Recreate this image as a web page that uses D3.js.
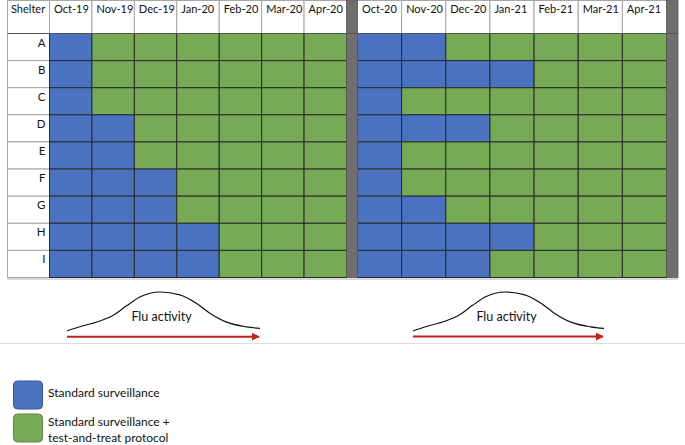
<!DOCTYPE html>
<html>
<head>
<meta charset="utf-8">
<script src="https://cdn.jsdelivr.net/npm/d3@7"></script>
<style>
  html, body { margin: 0; padding: 0; background: #fff; }
  svg { display: block; font-family: Lato, "Open Sans", sans-serif; }
</style>
</head>
<body>
<svg id="chart" width="685" height="445"></svg>
<script>
// ---------- data ----------
const shelters = ["A", "B", "C", "D", "E", "F", "G", "H", "I"];
const months1 = ["Oct-19", "Nov-19", "Dec-19", "Jan-20", "Feb-20", "Mar-20", "Apr-20"];
const months2 = ["Oct-20", "Nov-20", "Dec-20", "Jan-21", "Feb-21", "Mar-21", "Apr-21"];
// number of initial months each shelter was under standard surveillance only
const standardMonths1 = [1, 1, 1, 2, 2, 3, 3, 4, 4];
const standardMonths2 = [2, 4, 1, 3, 1, 1, 2, 4, 3];
const statusNames = ["Standard surveillance", "Standard surveillance + test-and-treat protocol"];
const legendLines = [["Standard surveillance"], ["Standard surveillance +", "test-and-treat protocol"]];
const headerLabel = "Shelter";
const fluLabel = "Flu activity";
// flu activity curve profile (relative time 0..1, relative level 0..1)
const fluTime  = [0, 0.066, 0.17, 0.24, 0.31, 0.38, 0.48, 0.585, 0.67, 0.74, 0.83, 0.93, 1];
const fluLevel = [0.025, 0.13, 0.275, 0.42, 0.66, 0.88, 1, 0.93, 0.72, 0.47, 0.24, 0.13, 0.09];

// ---------- layout ----------
const svg = d3.select("#chart");
const colors = ["#4a72c1", "#77aa54"];
const gridDark = "#2b2b2b";
const gridLight = "#a6a6a6";
const gapFill = "#726e6e";

const tableLeft = 7.5, labelRight = 49.5;
const headTop = 0.5, headBottom = 33.5, tableBottom = 277.5;

const y = d3.scaleBand().domain(shelters).range([headBottom, tableBottom]);
const x1 = d3.scaleBand().domain(months1).range([labelRight, 346.5]);
const gap1 = [346.5, 357.5];
const x2 = d3.scaleBand().domain(months2).range([357.5, 666.5]);
const gap2 = [666.5, 678];

const blocks = [
  { x: x1, months: months1, std: standardMonths1 },
  { x: x2, months: months2, std: standardMonths2 }
];

// bottom shadow
svg.append("line").attr("x1", tableLeft).attr("x2", gap2[1])
  .attr("y1", tableBottom + 1.5).attr("y2", tableBottom + 1.5)
  .attr("stroke", "#d9d9d9").attr("stroke-width", 2);

// header shelter cell
const g = svg.append("g");
g.append("rect").attr("x", tableLeft).attr("y", headTop)
  .attr("width", labelRight - tableLeft).attr("height", headBottom - headTop)
  .attr("fill", "#fff").attr("stroke", gridLight);
g.append("text").attr("x", tableLeft + 3.5).attr("y", headTop + 12)
  .attr("font-size", 11).attr("fill", "#111").text(headerLabel);

// row labels
g.selectAll("rect.lab").data(shelters).join("rect").attr("class", "lab")
  .attr("x", tableLeft).attr("y", d => y(d))
  .attr("width", labelRight - tableLeft).attr("height", y.bandwidth())
  .attr("fill", "#fff").attr("stroke", gridLight);
g.selectAll("text.lab").data(shelters).join("text").attr("class", "lab")
  .attr("x", labelRight - 4).attr("y", d => y(d) + 13)
  .attr("text-anchor", "end").attr("font-size", 11.5).attr("fill", "#111").text(d => d);

blocks.forEach((b, bi) => {
  const bg = svg.append("g");
  // header cells
  bg.selectAll("rect.head").data(b.months).join("rect").attr("class", "head")
    .attr("x", d => b.x(d)).attr("y", headTop)
    .attr("width", b.x.bandwidth()).attr("height", headBottom - headTop)
    .attr("fill", "#fff").attr("stroke", gridLight);
  bg.selectAll("text.head").data(b.months).join("text").attr("class", "head")
    .attr("x", d => b.x(d) + 4.5).attr("y", headTop + 12)
    .attr("font-size", 11).attr("fill", "#111").text(d => d);
  // cells
  const cells = [];
  shelters.forEach((s, i) => {
    b.months.forEach((m, j) => {
      cells.push({ s, m, status: j < b.std[i] ? 0 : 1 });
    });
  });
  bg.selectAll("rect.cell").data(cells).join("rect").attr("class", "cell")
    .attr("x", d => b.x(d.m)).attr("y", d => y(d.s))
    .attr("width", b.x.bandwidth()).attr("height", y.bandwidth())
    .attr("fill", d => colors[d.status]).attr("stroke", gridDark).attr("stroke-width", 1);
});

// gap columns
[gap1, gap2].forEach(gp => {
  svg.append("rect").attr("x", gp[0]).attr("y", headTop)
    .attr("width", gp[1] - gp[0]).attr("height", tableBottom - headTop)
    .attr("fill", gapFill).attr("stroke", "#5a5757").attr("stroke-width", 0.8);
});
// header bottom line
svg.append("line").attr("x1", tableLeft).attr("x2", gap2[1])
  .attr("y1", headBottom).attr("y2", headBottom).attr("stroke", "#555");

// ---------- flu activity ----------
const spans = [
  { x0: 67, x1: 260, base: 332, peak: 292, arrowY: 336.7, arrowEnd: 259 },
  { x0: 413, x1: 604, base: 332, peak: 292, arrowY: 336.5, arrowEnd: 603 }
];
const defs = svg.append("defs");
defs.append("marker").attr("id", "arrow").attr("viewBox", "0 0 10 10")
  .attr("refX", 9).attr("refY", 5).attr("markerWidth", 4).attr("markerHeight", 4)
  .attr("orient", "auto")
  .append("path").attr("d", "M0,0 L10,5 L0,10 z").attr("fill", "#c0221c");

spans.forEach(sp => {
  const fx = d3.scaleLinear().domain([0, 1]).range([sp.x0, sp.x1]);
  const fy = d3.scaleLinear().domain([0, 1]).range([sp.base, sp.peak]);
  const line = d3.line().x((d, i) => fx(fluTime[i])).y(d => fy(d)).curve(d3.curveMonotoneX);
  svg.append("path").attr("d", line(fluLevel)).attr("fill", "none")
    .attr("stroke", "#111").attr("stroke-width", 1.2);
  svg.append("line").attr("x1", sp.x0).attr("x2", sp.arrowEnd)
    .attr("y1", sp.arrowY).attr("y2", sp.arrowY)
    .attr("stroke", "#c0221c").attr("stroke-width", 2).attr("marker-end", "url(#arrow)");
  svg.append("text").attr("x", fx(0.49)).attr("y", 320.5)
    .attr("text-anchor", "middle").attr("font-size", 12.5).attr("fill", "#111").text(fluLabel);
});

// separator
svg.append("line").attr("x1", 0).attr("x2", 685).attr("y1", 343.5).attr("y2", 343.5)
  .attr("stroke", "#dcdcdc").attr("stroke-width", 1);

// ---------- legend ----------
const legendY = d3.scaleBand().domain(statusNames).range([381, 445]).paddingInner(0.06);
const lg = svg.append("g");
lg.selectAll("rect").data(statusNames).join("rect")
  .attr("x", 13.5).attr("y", d => legendY(d))
  .attr("width", 29).attr("height", 28).attr("rx", 4)
  .attr("fill", (d, i) => colors[i]).attr("stroke", (d, i) => i ? "#5d8a41" : "#39599a").attr("stroke-width", 1);
lg.selectAll("text").data(statusNames).join("text")
  .attr("x", 48).attr("y", (d, i) => legendY(d) + (i ? 12 : 16))
  .attr("font-size", 12).attr("fill", "#111")
  .each(function(d, i) {
    d3.select(this).selectAll("tspan").data(legendLines[i]).join("tspan")
      .attr("x", 48).attr("dy", (t, k) => k ? 16 : 0).text(t => t);
  });
</script>
</body>
</html>
